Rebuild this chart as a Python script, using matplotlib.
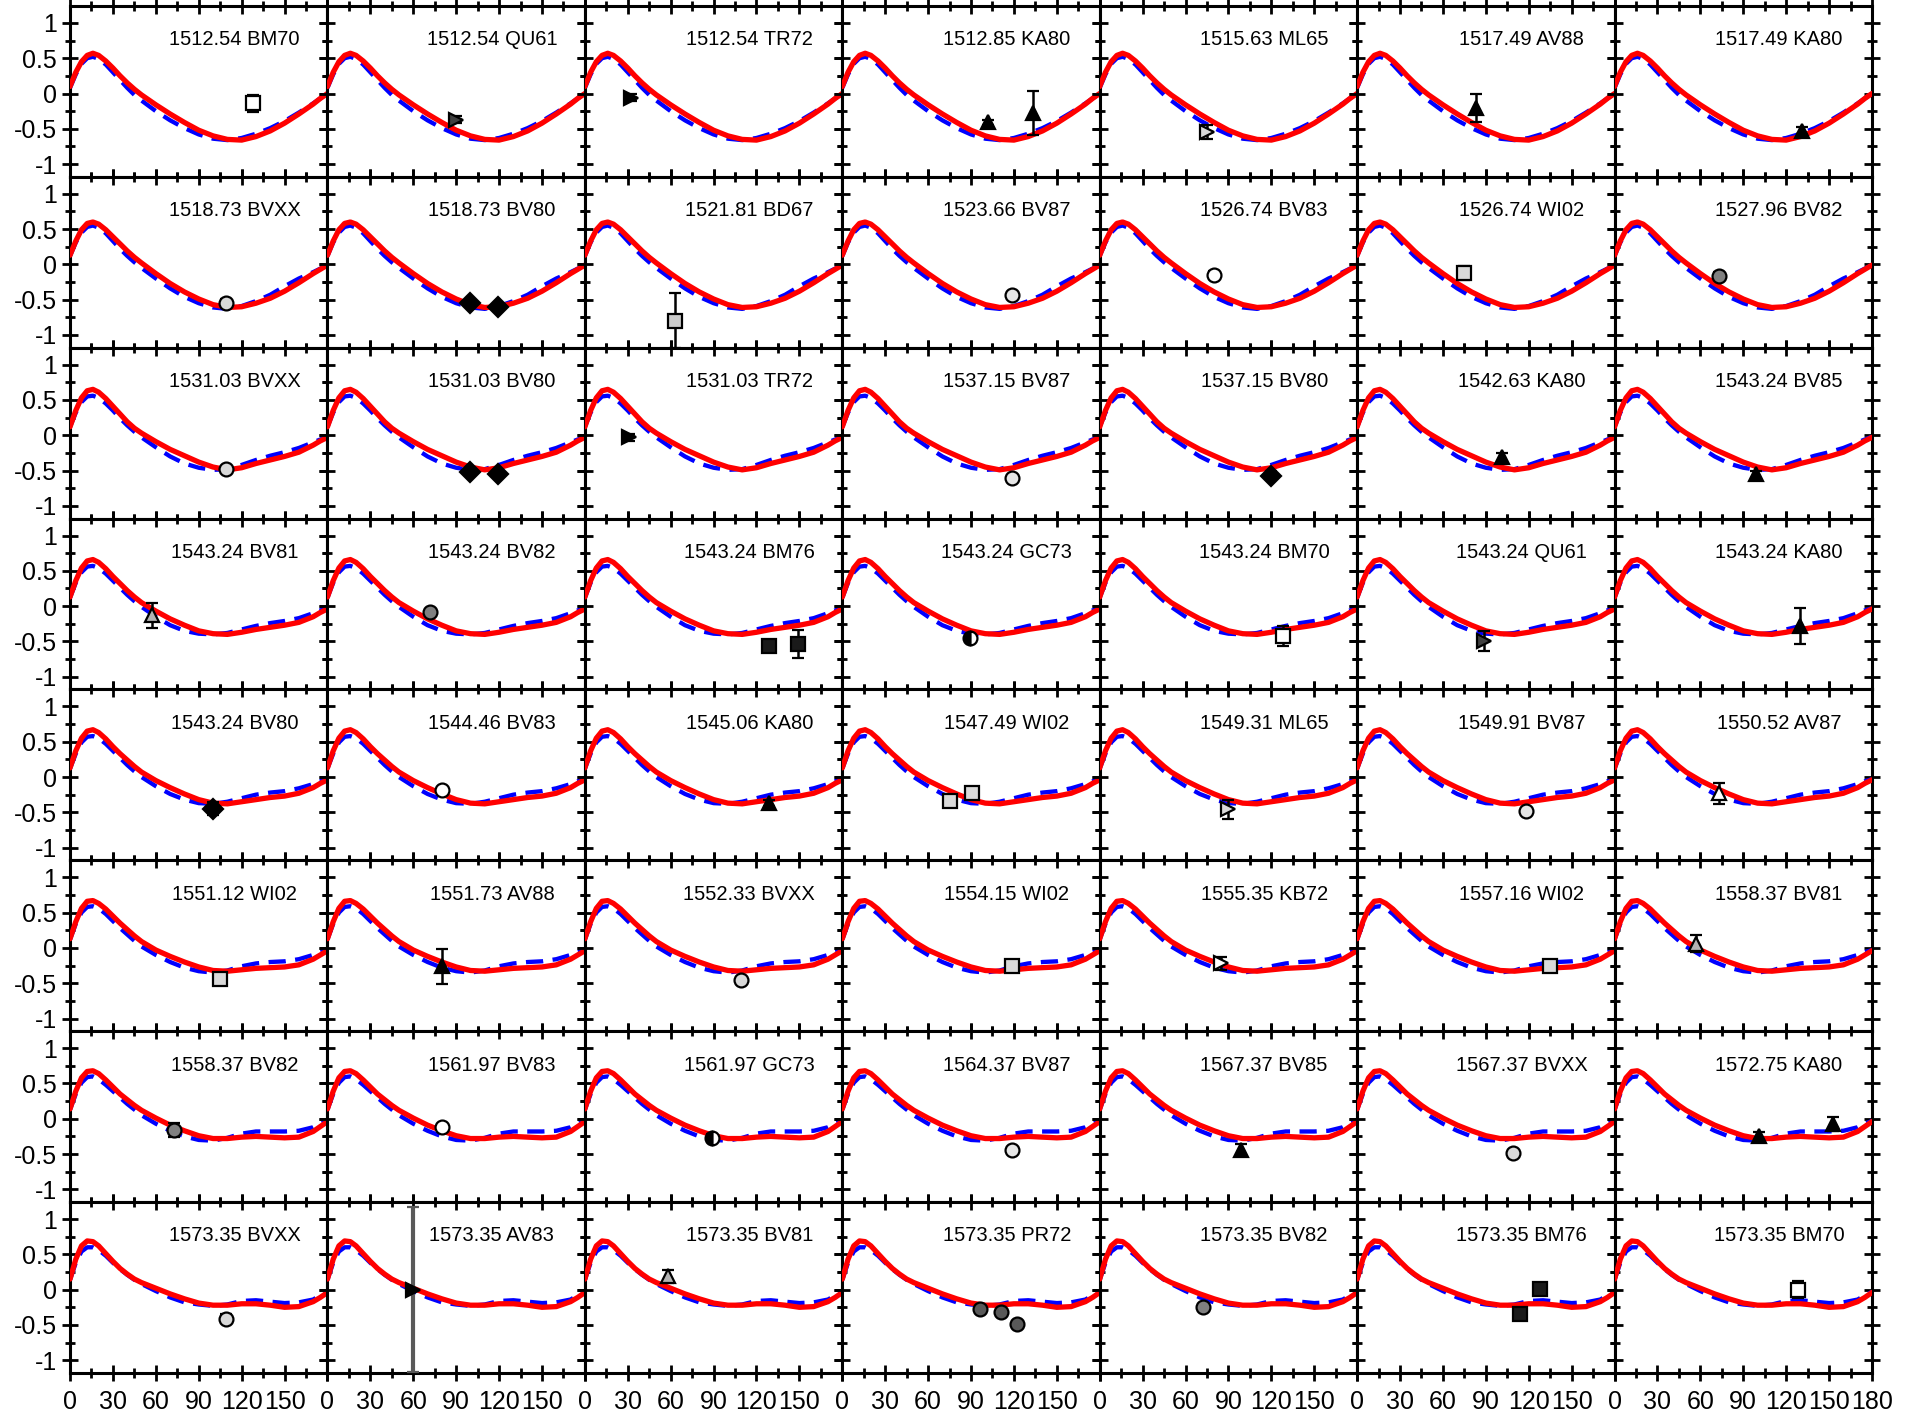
import numpy as np
import matplotlib
matplotlib.use('Agg')
import matplotlib.pyplot as plt
from matplotlib.ticker import MultipleLocator, FuncFormatter

plt.rcParams['font.family'] = ['Liberation Sans', 'DejaVu Sans']
plt.rcParams['axes.unicode_minus'] = False

phase = [0, 4, 8, 12, 16, 20, 25, 30, 35, 40, 45, 50, 60, 70, 80, 90,
         100, 110, 120, 130, 140, 150, 160, 170, 175, 180]

# model curves, one pair per row of panels
red_rows = [
    [0.10, 0.30, 0.45, 0.54, 0.57, 0.54, 0.46, 0.36, 0.25, 0.15, 0.06, -0.02, -0.16, -0.29, -0.41, -0.52, -0.60, -0.65, -0.66, -0.61, -0.53, -0.42, -0.29, -0.15, -0.07, 0.0],
    [0.13, 0.33, 0.49, 0.58, 0.60, 0.57, 0.49, 0.39, 0.29, 0.19, 0.10, 0.02, -0.13, -0.27, -0.39, -0.49, -0.57, -0.61, -0.60, -0.55, -0.48, -0.38, -0.26, -0.13, -0.07, -0.01],
    [0.12, 0.35, 0.53, 0.63, 0.65, 0.61, 0.52, 0.41, 0.30, 0.19, 0.10, 0.03, -0.09, -0.20, -0.29, -0.38, -0.45, -0.49, -0.46, -0.40, -0.35, -0.30, -0.24, -0.14, -0.08, -0.03],
    [0.13, 0.36, 0.54, 0.64, 0.66, 0.62, 0.53, 0.42, 0.32, 0.22, 0.13, 0.05, -0.07, -0.18, -0.27, -0.35, -0.39, -0.40, -0.37, -0.33, -0.30, -0.27, -0.23, -0.15, -0.09, -0.04],
    [0.13, 0.37, 0.55, 0.65, 0.67, 0.63, 0.54, 0.43, 0.33, 0.24, 0.15, 0.07, -0.05, -0.15, -0.24, -0.32, -0.37, -0.38, -0.35, -0.32, -0.29, -0.27, -0.23, -0.15, -0.09, -0.04],
    [0.13, 0.37, 0.56, 0.66, 0.67, 0.63, 0.55, 0.45, 0.35, 0.26, 0.17, 0.09, -0.03, -0.12, -0.20, -0.27, -0.32, -0.33, -0.31, -0.29, -0.28, -0.27, -0.24, -0.16, -0.10, -0.04],
    [0.14, 0.39, 0.58, 0.67, 0.68, 0.64, 0.55, 0.45, 0.35, 0.27, 0.19, 0.12, 0.01, -0.09, -0.17, -0.24, -0.28, -0.28, -0.26, -0.25, -0.26, -0.27, -0.26, -0.18, -0.11, -0.04],
    [0.15, 0.43, 0.62, 0.69, 0.68, 0.62, 0.51, 0.40, 0.30, 0.22, 0.15, 0.10, 0.02, -0.06, -0.13, -0.19, -0.22, -0.22, -0.20, -0.20, -0.22, -0.25, -0.24, -0.17, -0.11, -0.04],
]
blue_rows = [
    [0.08, 0.27, 0.42, 0.50, 0.52, 0.49, 0.41, 0.30, 0.19, 0.08, -0.02, -0.10, -0.25, -0.38, -0.49, -0.58, -0.64, -0.66, -0.63, -0.57, -0.49, -0.39, -0.27, -0.14, -0.07, 0.0],
    [0.12, 0.31, 0.45, 0.53, 0.55, 0.52, 0.44, 0.33, 0.22, 0.12, 0.03, -0.05, -0.20, -0.34, -0.46, -0.55, -0.61, -0.63, -0.59, -0.52, -0.43, -0.31, -0.20, -0.11, -0.06, -0.01],
    [0.12, 0.32, 0.47, 0.55, 0.56, 0.53, 0.45, 0.35, 0.24, 0.14, 0.05, -0.03, -0.17, -0.30, -0.40, -0.46, -0.49, -0.48, -0.42, -0.35, -0.29, -0.24, -0.18, -0.10, -0.06, -0.02],
    [0.12, 0.33, 0.48, 0.56, 0.57, 0.54, 0.46, 0.36, 0.26, 0.16, 0.07, -0.01, -0.15, -0.27, -0.35, -0.39, -0.40, -0.38, -0.33, -0.28, -0.24, -0.21, -0.17, -0.10, -0.06, -0.03],
    [0.12, 0.33, 0.49, 0.57, 0.58, 0.55, 0.47, 0.37, 0.27, 0.17, 0.08, 0.00, -0.13, -0.24, -0.32, -0.37, -0.38, -0.35, -0.30, -0.25, -0.22, -0.20, -0.16, -0.10, -0.06, -0.03],
    [0.12, 0.34, 0.50, 0.58, 0.59, 0.56, 0.48, 0.38, 0.28, 0.19, 0.10, 0.02, -0.10, -0.20, -0.28, -0.33, -0.35, -0.32, -0.26, -0.22, -0.20, -0.19, -0.16, -0.10, -0.06, -0.03],
    [0.13, 0.35, 0.51, 0.59, 0.60, 0.56, 0.48, 0.39, 0.30, 0.21, 0.13, 0.05, -0.07, -0.17, -0.25, -0.30, -0.31, -0.27, -0.21, -0.18, -0.18, -0.18, -0.17, -0.12, -0.07, -0.03],
    [0.14, 0.38, 0.54, 0.60, 0.60, 0.56, 0.48, 0.38, 0.29, 0.21, 0.14, 0.08, -0.02, -0.11, -0.18, -0.21, -0.23, -0.21, -0.16, -0.15, -0.17, -0.19, -0.18, -0.14, -0.08, -0.03],
]

labels = [
    '1512.54 BM70', '1512.54 QU61', '1512.54 TR72', '1512.85 KA80', '1515.63 ML65', '1517.49 AV88', '1517.49 KA80',
    '1518.73 BVXX', '1518.73 BV80', '1521.81 BD67', '1523.66 BV87', '1526.74 BV83', '1526.74 WI02', '1527.96 BV82',
    '1531.03 BVXX', '1531.03 BV80', '1531.03 TR72', '1537.15 BV87', '1537.15 BV80', '1542.63 KA80', '1543.24 BV85',
    '1543.24 BV81', '1543.24 BV82', '1543.24 BM76', '1543.24 GC73', '1543.24 BM70', '1543.24 QU61', '1543.24 KA80',
    '1543.24 BV80', '1544.46 BV83', '1545.06 KA80', '1547.49 WI02', '1549.31 ML65', '1549.91 BV87', '1550.52 AV87',
    '1551.12 WI02', '1551.73 AV88', '1552.33 BVXX', '1554.15 WI02', '1555.35 KB72', '1557.16 WI02', '1558.37 BV81',
    '1558.37 BV82', '1561.97 BV83', '1561.97 GC73', '1564.37 BV87', '1567.37 BV85', '1567.37 BVXX', '1572.75 KA80',
    '1573.35 BVXX', '1573.35 AV83', '1573.35 BV81', '1573.35 PR72', '1573.35 BV82', '1573.35 BM76', '1573.35 BM70',
]

# observations per panel: (phase, value, error)
points = [
    [(128, -0.14, 0.12)], [(90, -0.37, 0.05)], [(32, -0.06, 0.05)],
    [(102, -0.41, 0.04), (133, -0.28, 0.31)], [(75, -0.55, 0.10)], [(83, -0.20, 0.20)], [(131, -0.53, 0.05)],
    [(109, -0.55, 0.06)], [(100, -0.54, 0.03), (119, -0.61, 0.05)], [(63, -0.80, 0.39)],
    [(119, -0.44, 0.03)], [(80, -0.15, 0.05)], [(75, -0.12, 0.10)], [(73, -0.16, 0.05)],
    [(109, -0.48, 0.03)], [(100, -0.52, 0.03), (119, -0.55, 0.04)], [(31, -0.03, 0.05)],
    [(119, -0.60, 0.03)], [(120, -0.57, 0.06)], [(101, -0.31, 0.06)], [(99, -0.55, 0.05)],
    [(57, -0.13, 0.18)], [(72, -0.09, 0.04)], [(129, -0.56, 0.04), (149, -0.54, 0.20)],
    [(89, -0.45, 0.03)], [(128, -0.42, 0.14)], [(89, -0.49, 0.14)], [(130, -0.28, 0.26)],
    [(100, -0.45, 0.09)], [(80, -0.18, 0.03)], [(129, -0.37, 0.04)], [(75, -0.34, 0.06), (91, -0.23, 0.04)],
    [(90, -0.46, 0.14)], [(118, -0.48, 0.03)], [(73, -0.23, 0.15)],
    [(105, -0.44, 0.04)], [(80, -0.26, 0.25)], [(109, -0.45, 0.04)], [(119, -0.26, 0.04)],
    [(85, -0.22, 0.09)], [(135, -0.26, 0.05)], [(57, 0.06, 0.12)],
    [(73, -0.16, 0.10)], [(80, -0.11, 0.03)], [(89, -0.27, 0.06)], [(119, -0.44, 0.03)],
    [(99, -0.44, 0.08)], [(109, -0.49, 0.05)], [(101, -0.25, 0.06), (153, -0.08, 0.10)],
    [(109, -0.41, 0.06)], [(60, 0.0, 1.17)], [(58, 0.19, 0.09)],
    [(96, -0.28, 0.03), (111, -0.31, 0.03), (122, -0.48, 0.03)],
    [(72, -0.24, 0.03)], [(128, 0.01, 0.04), (114, -0.35, 0.04)], [(128, 0.0, 0.12)],
]

# marker look per source catalogue
style = {
    'BM70': ('s', 'white'), 'QU61': ('>', '0.25'), 'TR72': ('>', 'black'), 'KA80': ('^', 'black'),
    'ML65': ('>', '0.85'), 'AV88': ('^', 'black'), 'BVXX': ('o', '0.85'), 'BV80': ('D', 'black'),
    'BD67': ('s', '0.8'), 'BV87': ('o', '0.9'), 'BV83': ('o', 'white'), 'WI02': ('s', '0.85'),
    'BV82': ('o', '0.5'), 'BV85': ('^', 'black'), 'BV81': ('^', '0.7'), 'BM76': ('s', '0.1'),
    'GC73': ('o', 'half'), 'AV87': ('^', 'white'), 'KB72': ('>', 'white'), 'PR72': ('o', '0.35'),
    'AV83': ('>', 'black'),
}

fig = plt.figure(figsize=(19.19, 14.15), dpi=100)
gs = fig.add_gridspec(8, 7, left=0.0365, right=0.9755, bottom=0.0297, top=0.9958,
                      wspace=0, hspace=0)

for i in range(56):
    r, c = divmod(i, 7)
    ax = fig.add_subplot(gs[r, c])
    ax.plot(phase, blue_rows[r], color='#0000ff', lw=3.1, dashes=(4, 2.2), zorder=2)
    ax.plot(phase, red_rows[r], color='#ff0000', lw=3.8, solid_capstyle='round', zorder=3)

    cat = labels[i].split()[1]
    mk, fc = style[cat]
    for (px, py, pe) in points[i]:
        if fc == 'half':
            ax.errorbar(px, py, yerr=pe, fmt=mk, ms=10, mfc='black', mfcalt='white',
                        fillstyle='left', mec='black', mew=1.6, ecolor='black',
                        elinewidth=1.8, capsize=4, capthick=1.8, zorder=4)
        else:
            ecol = '0.35' if pe > 1 else 'black'
            ax.errorbar(px, py, yerr=pe, fmt=mk, ms=10, mfc=fc, mec='black', mew=1.6,
                        ecolor=ecol, elinewidth=3 if pe > 1 else 1.8, capsize=4,
                        capthick=1.8, zorder=4)

    ax.text(115, 0.76, labels[i], ha='center', va='center', fontsize=14.5)

    ax.set_xlim(0, 180)
    ax.set_ylim(-1.18, 1.24)
    ax.xaxis.set_major_locator(MultipleLocator(30))
    ax.xaxis.set_minor_locator(MultipleLocator(15))
    ax.yaxis.set_major_locator(MultipleLocator(0.5))
    ax.yaxis.set_minor_locator(MultipleLocator(0.25))
    ax.tick_params(which='both', direction='inout', top=True, right=True, width=2)
    ax.tick_params(which='major', length=12, labelsize=18)
    ax.tick_params(which='minor', length=7)
    for sp in ax.spines.values():
        sp.set_linewidth(2.2)

    if r == 7:
        last = c == 6
        ax.xaxis.set_major_formatter(FuncFormatter(
            lambda v, p, last=last: '' if (v > 179 and not last) else f'{v:g}'))
        ax.tick_params(axis='x', pad=6)
    else:
        ax.tick_params(axis='x', labelbottom=False)
    if c == 0:
        ax.yaxis.set_major_formatter(FuncFormatter(lambda v, p: f'{v:g}'))
    else:
        ax.tick_params(axis='y', labelleft=False)

fig.savefig('out.png', dpi=100)
